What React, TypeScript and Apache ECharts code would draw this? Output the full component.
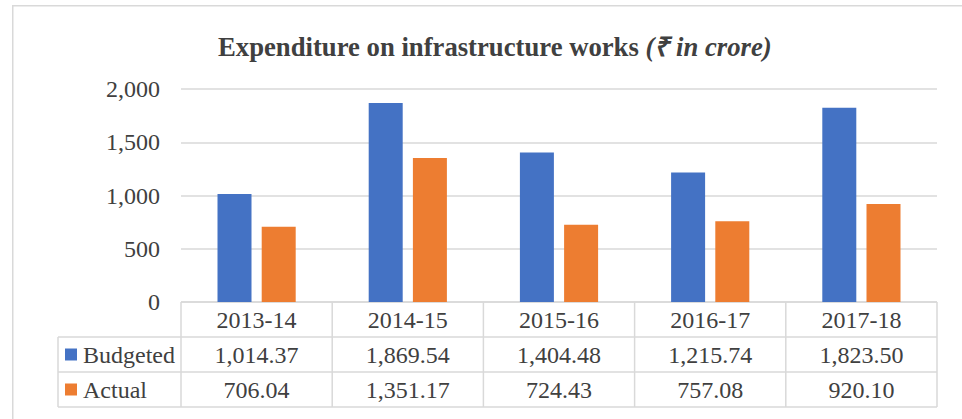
import React, { useEffect, useRef } from "react";
import * as echarts from "echarts";

const categories = ["2013-14", "2014-15", "2015-16", "2016-17", "2017-18"];
const budgeted = [1014.37, 1869.54, 1404.48, 1215.74, 1823.5];
const actual = [706.04, 1351.17, 724.43, 757.08, 920.1];
const seriesNames = ["Budgeted", "Actual"];
const colors = ["#4472C4", "#ED7D31"];
const titleMain = "Expenditure on infrastructure works ";
const titleUnit = "(₹ in crore)";

const FONT = "'Liberation Serif', 'Times New Roman', serif";
const TEXT = "#404040";
const LINE = "#d9d9d9";

const GRID_L = 181;
const GRID_R = 937;
const GRID_T = 89;
const AXIS_Y = 302;
const ROW_H = 35;
const LEG_L = 58;
const W = 962;
const H = 419;

const fmt = (v: number) =>
  v.toLocaleString("en-US", { minimumFractionDigits: 2, maximumFractionDigits: 2 });

export default function App() {
  const ref = useRef<HTMLDivElement>(null);
  useEffect(() => {
    if (!ref.current) return;
    const chart = echarts.init(ref.current, undefined, { renderer: "svg" });
    const n = categories.length;
    const colW = (GRID_R - GRID_L) / n;
    const lines: any[] = [];
    const mk = (x1: number, y1: number, x2: number, y2: number) =>
      lines.push({
        type: "line",
        shape: { x1, y1, x2, y2 },
        style: { stroke: LINE, lineWidth: 1.5 },
        silent: true,
      });
    mk(GRID_L, AXIS_Y, GRID_R, AXIS_Y);
    mk(LEG_L, AXIS_Y + ROW_H, GRID_R, AXIS_Y + ROW_H);
    mk(LEG_L, AXIS_Y + 2 * ROW_H, GRID_R, AXIS_Y + 2 * ROW_H);
    mk(LEG_L, AXIS_Y + 3 * ROW_H, GRID_R, AXIS_Y + 3 * ROW_H);
    mk(LEG_L, AXIS_Y + ROW_H, LEG_L, AXIS_Y + 3 * ROW_H);
    for (let i = 0; i <= n; i++) {
      const x = GRID_L + i * colW;
      mk(x, AXIS_Y, x, AXIS_Y + 3 * ROW_H);
    }
    const legendEls: any[] = [];
    seriesNames.forEach((name, i) => {
      const cy = AXIS_Y + ROW_H * (i + 1.5);
      legendEls.push({
        type: "rect",
        shape: { x: 65, y: cy - 6, width: 12, height: 12 },
        style: { fill: colors[i] },
      });
      legendEls.push({
        type: "text",
        x: 83,
        y: cy,
        style: {
          text: name,
          fill: TEXT,
          font: `24px ${FONT}`,
          verticalAlign: "middle",
          textAlign: "left",
        },
      });
    });

    const tableAxis = (data: string[], offset: number) => ({
      type: "category",
      data,
      position: "bottom",
      offset,
      axisLine: { show: false },
      axisTick: { show: false },
      axisLabel: { color: TEXT, fontFamily: FONT, fontSize: 24, margin: 6, interval: 0 },
    });

    chart.setOption({
      animation: false,
      title: {
        text: `{b|${titleMain}}{bi|${titleUnit}}`,
        left: 213,
        top: 28,
        textStyle: {
          rich: {
            b: { fontFamily: FONT, fontWeight: "bold", fontSize: 26.7, color: TEXT },
            bi: { fontFamily: FONT, fontWeight: "bold", fontStyle: "italic", fontSize: 26.7, color: TEXT },
          },
        },
      },
      grid: { left: GRID_L, right: W - GRID_R, top: GRID_T, bottom: H - AXIS_Y },
      xAxis: [
        {
          type: "category",
          data: categories,
          axisLine: { show: false },
          axisTick: { show: false },
          axisLabel: { color: TEXT, fontFamily: FONT, fontSize: 24, margin: 6, interval: 0 },
        },
        tableAxis(budgeted.map(fmt), ROW_H),
        tableAxis(actual.map(fmt), ROW_H * 2),
      ],
      yAxis: {
        type: "value",
        min: 0,
        max: 2000,
        interval: 500,
        axisLine: { show: false },
        axisTick: { show: false },
        splitLine: { lineStyle: { color: LINE, width: 1.5 } },
        axisLabel: {
          color: TEXT,
          fontFamily: FONT,
          fontSize: 24,
          margin: 21,
          formatter: (v: number) => v.toLocaleString("en-US"),
        },
      },
      series: [
        {
          name: seriesNames[0],
          type: "bar",
          data: budgeted,
          barWidth: 34,
          barGap: "30%",
          itemStyle: { color: colors[0] },
        },
        {
          name: seriesNames[1],
          type: "bar",
          data: actual,
          barWidth: 34,
          barGap: "30%",
          itemStyle: { color: colors[1] },
        },
      ],
      graphic: [
        {
          type: "rect",
          shape: { x: 12.75, y: 5.75, width: 1000, height: 600 },
          style: { fill: "none", stroke: LINE, lineWidth: 1.5 },
          silent: true,
          z: -1,
        },
        ...lines,
        ...legendEls,
      ],
    });
    return () => chart.dispose();
  }, []);
  return (
    <div
      ref={ref}
      style={{ position: "fixed", left: 0, top: 0, width: W, height: H, background: "#fff" }}
    />
  );
}
